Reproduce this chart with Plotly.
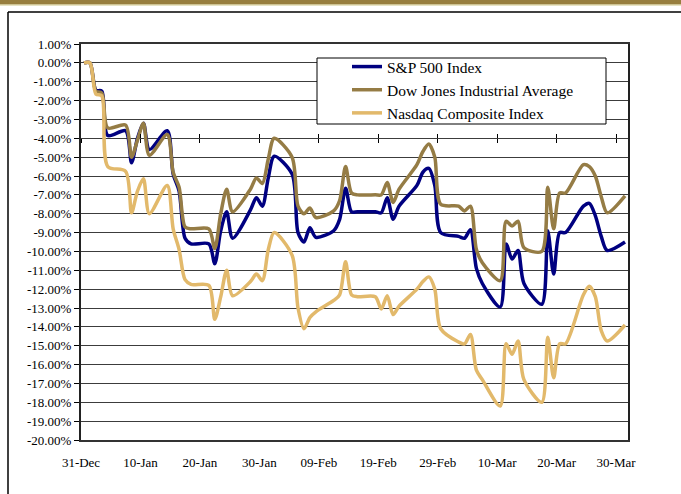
import pandas as pd
import plotly.graph_objects as go

# ---------------- data ----------------
dates = [
    "2007-12-31",
    "2008-01-01", "2008-01-02", "2008-01-03", "2008-01-04", "2008-01-07", "2008-01-08",
    "2008-01-09", "2008-01-10", "2008-01-11", "2008-01-14", "2008-01-15", "2008-01-16",
    "2008-01-17", "2008-01-18", "2008-01-21", "2008-01-22", "2008-01-23", "2008-01-24",
    "2008-01-25", "2008-01-28", "2008-01-29", "2008-01-30", "2008-01-31",
    "2008-02-01", "2008-02-04", "2008-02-05", "2008-02-06", "2008-02-07", "2008-02-08",
    "2008-02-11", "2008-02-12", "2008-02-13", "2008-02-14", "2008-02-15", "2008-02-18",
    "2008-02-19", "2008-02-20", "2008-02-21", "2008-02-22", "2008-02-25", "2008-02-26",
    "2008-02-27", "2008-02-28", "2008-02-29",
    "2008-03-03", "2008-03-04", "2008-03-05", "2008-03-06", "2008-03-07", "2008-03-10",
    "2008-03-11", "2008-03-12", "2008-03-13", "2008-03-14", "2008-03-17", "2008-03-18",
    "2008-03-19", "2008-03-20", "2008-03-21", "2008-03-24", "2008-03-25", "2008-03-26",
    "2008-03-27", "2008-03-28", "2008-03-31",
]

sp500 = [
    0.0,
    0.0, -1.45, -1.5, -3.85, -3.6, -5.3,
    -4.0, -3.2, -4.6, -3.6, -5.9, -6.8,
    -9.3, -9.6, -9.6, -10.65, -8.9, -7.9,
    -9.3, -7.8, -7.15, -7.6, -6.1,
    -4.95, -5.9, -9.0, -9.5, -8.75, -9.25,
    -8.9, -8.3, -6.65, -7.9, -7.9, -7.9,
    -7.95, -7.15, -8.3, -7.6, -6.5, -5.8,
    -5.6, -6.5, -9.0,
    -9.2, -9.3, -8.85, -10.9, -11.7, -12.95,
    -9.6, -10.4, -9.95, -11.7, -12.8, -8.9,
    -11.2, -9.0, -9.0, -7.6, -7.45, -8.1,
    -9.2, -9.95, -9.5,
]

dow = [
    0.0,
    0.0, -1.5, -1.6, -3.45, -3.3, -5.0,
    -4.1, -3.2, -4.9, -3.8, -5.8, -6.6,
    -8.7, -8.8, -8.8, -9.85, -8.0, -6.7,
    -7.9, -6.7, -6.1, -6.4, -5.1,
    -4.0, -5.0, -7.6, -8.0, -7.7, -8.2,
    -7.85, -7.3, -5.5, -6.9, -7.0, -7.0,
    -7.0, -6.35, -7.4, -6.7, -5.4, -4.7,
    -4.3, -5.0, -7.5,
    -7.6, -7.85, -7.6, -9.9, -10.6, -11.55,
    -8.4, -8.65, -8.4, -9.8, -10.0, -6.6,
    -8.8, -6.9, -6.9, -5.4, -5.5, -6.0,
    -7.1, -7.95, -7.05,
]

nasdaq = [
    0.0,
    0.0, -1.65, -1.75, -5.5, -5.75, -7.95,
    -6.8, -6.15, -8.0, -6.5, -8.8, -9.9,
    -11.5, -11.75, -11.8, -13.6, -12.4, -11.0,
    -12.35, -11.6, -11.2, -11.55, -9.9,
    -9.0, -10.2, -13.0, -14.1, -13.5, -13.2,
    -12.6, -12.3, -10.55, -12.3, -12.4, -12.4,
    -13.05, -12.35, -13.35, -12.9, -12.0, -11.6,
    -11.35, -12.0, -14.1,
    -14.8, -14.9, -14.4, -16.3, -16.8, -18.2,
    -14.9, -15.45, -14.75, -16.8, -18.0, -14.55,
    -16.7, -14.9, -14.9, -12.3, -11.85, -12.4,
    -14.2, -14.75, -13.9,
]

series_names = ["S&P 500 Index", "Dow Jones Industrial Average", "Nasdaq Composite Index"]
series_colors = ["#000080", "#957C45", "#E2B96B"]

x_tick_dates = ["2007-12-31", "2008-01-10", "2008-01-20", "2008-01-30", "2008-02-09",
                "2008-02-19", "2008-02-29", "2008-03-10", "2008-03-20", "2008-03-30"]
x_tick_labels = ["31-Dec", "10-Jan", "20-Jan", "30-Jan", "09-Feb",
                 "19-Feb", "29-Feb", "10-Mar", "20-Mar", "30-Mar"]

y_tick_vals = list(range(1, -21, -1))
y_tick_labels = ["1.00%", "0.00%", "-1.00%", "-2.00%", "-3.00%", "-4.00%", "-5.00%",
                 "-6.00%", "-7.00%", "-8.00%", "-9.00%", "-10.00%", "-11.00%", "-12.00%",
                 "-13.00%", "-14.00%", "-15.00%", "-16.00%", "-17.00%", "-18.00%",
                 "-19.00%", "-20.00%"]
axis_cross_value = -4  # the date axis crosses the value axis here

# ---------------- figure ----------------
# points sit in the middle of each day (date axis, "between tick marks")
x_pos = pd.to_datetime(dates) + pd.Timedelta(hours=12)
x_range = ["2007-12-31", "2008-04-01"]
y_range = [-20, 1]

SERIF = "Liberation Serif"

fig = go.Figure()
for name, vals, col in zip(series_names, [sp500, dow, nasdaq], series_colors):
    fig.add_trace(go.Scatter(
        x=x_pos, y=vals, name=name, mode="lines",
        line=dict(color=col, width=3.5, shape="spline", smoothing=0.8),
    ))

# dummy traces so the crossing tick axes get drawn
for ax in ["x2", "x3"]:
    fig.add_trace(go.Scatter(x=[x_pos[0]], y=[None], xaxis=ax, yaxis="y",
                             showlegend=False, hoverinfo="skip", mode="lines"))

L, R, T, B = 81, 53, 44, 54
W, H = 681, 494
pw, ph = W - L - R, H - T - B


def px(xp):
    return (xp - L) / pw


def py(yp):
    return (H - B - yp) / ph


cross_pos = (axis_cross_value - y_range[0]) / (y_range[1] - y_range[0])

fig.update_layout(
    width=W, height=H, autosize=False,
    margin=dict(l=L, r=R, t=T, b=B),
    paper_bgcolor="white", plot_bgcolor="white",
    font=dict(family=SERIF, size=13, color="black"),
    showlegend=True,
    legend=dict(
        x=px(347), y=py(50), xanchor="left", yanchor="top",
        bgcolor="rgba(0,0,0,0)", borderwidth=0,
        font=dict(family=SERIF, size=15.5, color="black"),
        tracegroupgap=0,
    ),
    xaxis=dict(
        type="date", range=x_range,
        tickmode="array", tickvals=x_tick_dates, ticktext=x_tick_labels,
        ticks="outside", ticklen=10, tickcolor="rgba(0,0,0,0)",
        showgrid=False, zeroline=False,
        showline=True, mirror=True, linecolor="#333333", linewidth=1.5,
        tickfont=dict(family=SERIF, size=13, color="black"),
    ),
    xaxis2=dict(
        type="date", range=x_range, overlaying="x", anchor="free", position=cross_pos,
        tickmode="array", tickvals=x_tick_dates, showticklabels=False,
        ticks="outside", ticklen=4, tickcolor="black", tickwidth=1,
        showgrid=False, zeroline=False, showline=False,
    ),
    xaxis3=dict(
        type="date", range=x_range, overlaying="x", anchor="free", position=cross_pos,
        tickmode="array", tickvals=x_tick_dates, showticklabels=False,
        ticks="inside", ticklen=4, tickcolor="black", tickwidth=1,
        showgrid=False, zeroline=False, showline=False,
    ),
    yaxis=dict(
        range=y_range,
        tickmode="array", tickvals=y_tick_vals, ticktext=y_tick_labels,
        ticks="outside", ticklen=5, tickcolor="black",
        showgrid=True, gridcolor="#3c3c3c", gridwidth=1,
        zeroline=False,
        showline=True, mirror=True, linecolor="#222222", linewidth=2,
        tickfont=dict(family=SERIF, size=13, color="black"),
    ),
    shapes=[
        # top decorative band
        dict(type="rect", xref="paper", yref="paper", x0=px(0), x1=px(W),
             y0=py(4.5), y1=py(0), fillcolor="#977E3E", line=dict(width=0), layer="above"),
        dict(type="rect", xref="paper", yref="paper", x0=px(0), x1=px(W),
             y0=py(5.5), y1=py(4.5), fillcolor="#CFC88A", line=dict(width=0), layer="above"),
        # outer frame (left and top edges visible)
        dict(type="line", xref="paper", yref="paper", x0=px(8), x1=px(8),
             y0=py(H), y1=py(12), line=dict(color="black", width=1.5), layer="below"),
        dict(type="line", xref="paper", yref="paper", x0=px(8), x1=px(W),
             y0=py(12), y1=py(12), line=dict(color="black", width=1.5), layer="below"),
        # legend box
        dict(type="rect", xref="paper", yref="paper", x0=px(317), x1=px(606),
             y0=py(124), y1=py(58), fillcolor="white",
             line=dict(color="black", width=1), layer="above"),
    ],
)

fig.write_html(
    "out.html",
    post_script="document.documentElement.style.overflow='hidden';"
                "document.body.style.overflow='hidden';document.body.style.margin='0';",
)
